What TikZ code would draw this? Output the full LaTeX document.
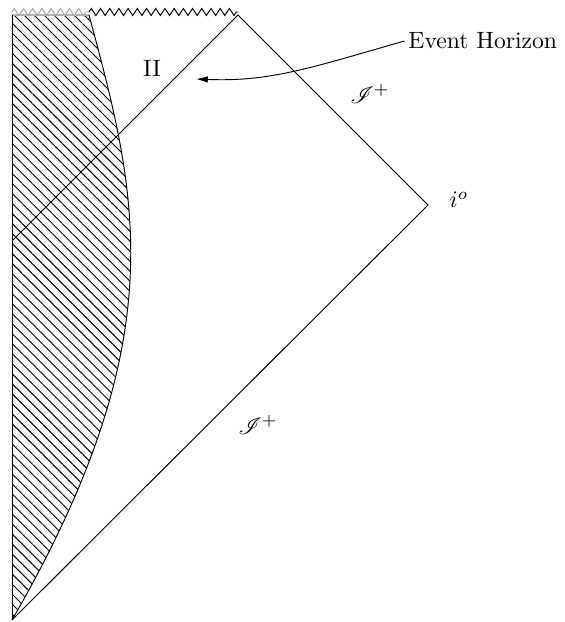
\documentclass[tikz,border=0pt]{standalone}
\usepackage{mathrsfs}
\usetikzlibrary{patterns.meta,decorations.pathmorphing,arrows.meta}
\begin{document}
\begin{tikzpicture}[x=0.4236pt,y=-0.4236pt,
  edge/.style={line width=0.4pt,black},
  zz/.style={decorate,decoration={zigzag,segment length=3.9pt,amplitude=1.5pt},line width=0.4pt},
  lbl/.style={inner sep=0pt}]
\useasboundingbox (0,0) rectangle (564,622);
\coordinate (tl) at (12,15);
\coordinate (top) at (238,15);
\coordinate (io) at (428,205);
\coordinate (bot) at (12,620);
\coordinate (eh) at (12,241);
\coordinate (st) at (89,15);
\coordinate (ztl) at (12,12);
\coordinate (zst) at (89,12);
\coordinate (ztop) at (238,12);
\coordinate (ehtip) at (196,79);
% hatched star interior
\fill[pattern={Lines[angle=-45,distance=3pt,line width=0.4pt]}] (tl) -- (bot) .. controls (175,338) and (138,197) .. (st) -- cycle;
\draw[gray!60,line width=0.5pt] (tl) -- (st);
% star surface
\draw[edge] (bot) .. controls (175,338) and (138,197) .. (st);
% boundaries
\draw[edge] (tl) -- (bot);
\draw[edge] (bot) -- (io) -- (top);
\draw[edge] (eh) -- (top);
% singularity
\draw[zz,gray!70] (ztl) -- (zst);
\draw[zz] (zst) -- (ztop);
% labels
\node[lbl] (II) at (152,68) {II};
\node[lbl] (scriU) at (370,94) {$\mathscr{I}^+$};
\node[lbl] (scriL) at (258,425) {$\mathscr{I}^+$};
\node[lbl] (i0) at (459,200) {$i^o$};
\node[lbl,anchor=west] (ehl) at (408,41) {Event Horizon};
\draw[edge,-{Latex[length=5pt,width=2.8pt]}] ([xshift=-1.5pt]ehl.west) .. controls (310,68) and (270,82) .. (ehtip);
\end{tikzpicture}
\end{document}
